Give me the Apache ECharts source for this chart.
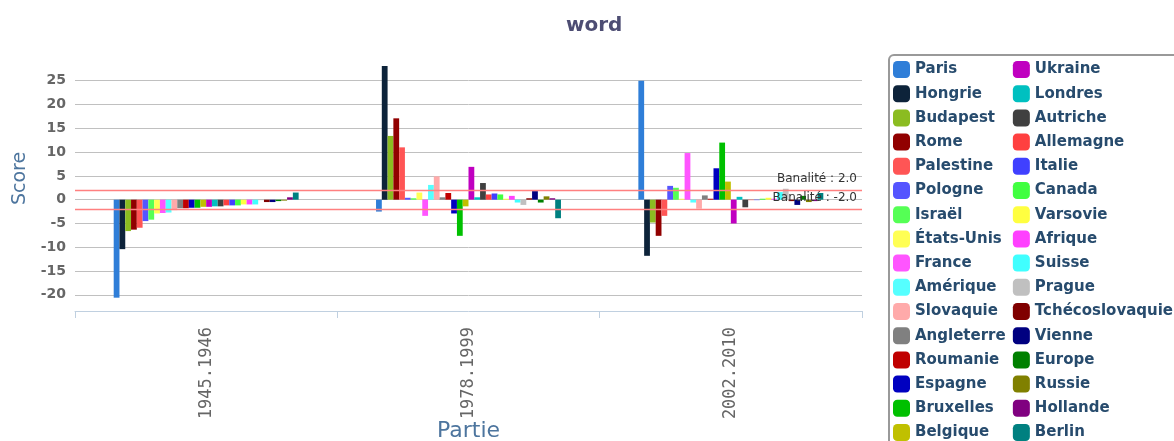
<!DOCTYPE html>
<html>
<head>
<meta charset="utf-8">
<script src="https://cdn.jsdelivr.net/npm/echarts@6/dist/echarts.min.js"></script>
<style>
  html, body { margin: 0; padding: 0; background: #fff; }
  #chart { width: 1174px; height: 441px; }
</style>
</head>
<body>
<div id="chart"></div>
<script>
const categories = ['1945.1946', '1978.1999', '2002.2010']

const names = [
  'Paris', 'Hongrie', 'Budapest', 'Rome', 'Palestine', 'Pologne', 'Israël', 'États-Unis',
  'France', 'Amérique', 'Slovaquie', 'Angleterre', 'Roumanie', 'Espagne', 'Bruxelles', 'Belgique',
  'Ukraine', 'Londres', 'Autriche', 'Allemagne', 'Italie', 'Canada', 'Varsovie', 'Afrique',
  'Suisse', 'Prague', 'Tchécoslovaquie', 'Vienne', 'Europe', 'Russie', 'Hollande', 'Berlin',
]

// one value per city, same order as names
const scores1945 = [
  -20.6, -10.4, -6.6, -6.3, -5.9, -4.5, -4.2, -2.9,
  -2.8, -2.7, -2.2, -1.8, -1.8, -1.7, -1.7, -1.5,
  -1.5, -1.4, -1.4, -1.2, -1.2, -1.2, -1.0, -1.0,
  -1.0, -0.1, -0.5, -0.5, -0.3, -0.2, 0.5, 1.5,
]
const scores1978 = [
  -2.5, 28.1, 13.4, 17.1, 11.0, 0.4, 0.3, 1.5,
  -3.4, 3.1, 4.9, 0.5, 1.4, -2.9, -7.6, -1.4,
  6.9, 0.5, 3.5, 1.1, 1.3, 1.1, 0.2, 0.8,
  -0.6, -1.1, 0.3, 1.8, -0.6, 0.7, 0.3, -3.9,
]
const scores2002 = [
  25.0, -11.8, -4.8, -7.6, -3.4, 2.9, 2.5, 0.2,
  9.8, -0.6, -1.9, 0.9, 0.2, 6.6, 12.0, 3.8,
  -5.0, 0.6, -1.6, -0.1, -0.1, 0.2, 0.4, 0.2,
  1.6, 2.3, -0.3, -1.1, 0.8, -0.5, -0.3, 1.4,
]

const banalite = [2.0, -2.0]

const palette = [
  '#2f7ed8', '#0d233a', '#8bbc21', '#910000', '#ff5555', '#5555ff', '#55ff55', '#ffff55',
  '#ff55ff', '#55ffff', '#ffaaaa', '#808080', '#c00000', '#0000c0', '#00c000', '#c0c000',
  '#c000c0', '#00c0c0', '#404040', '#ff4040', '#4040ff', '#40ff40', '#ffff40', '#ff40ff',
  '#40ffff', '#c0c0c0', '#800000', '#000080', '#008000', '#808000', '#800080', '#008080',
]

const chart = echarts.init(document.getElementById('chart'))

// grid lines: bottom one sits under the x axis, top one (axis max) stays hidden
const gridColors = ['transparent'].concat(Array(10).fill('#c0c0c0'), ['transparent'])

const series = names.map((name, i) => ({
  name,
  type: 'bar',
  barGap: '0%',
  barCategoryGap: '29.5%',
  itemStyle: { color: palette[i] },
  data: [scores1945[i], scores1978[i], scores2002[i]],
}))

series[series.length - 1].markLine = {
  silent: true,
  symbol: ['none', 'none'],
  lineStyle: { color: '#ff8080', width: 1.3, type: 'solid' },
  label: {
    position: 'insideEndTop',
    color: '#333',
    fontSize: 12,
    fontFamily: 'DejaVu Sans',
    formatter: (p) => 'Banalité : ' + Number(p.value).toFixed(1),
  },
  data: banalite.map((v) => ({ yAxis: v })),
}

chart.setOption({
  animation: false,
  color: palette,
  title: {
    text: 'word',
    left: 561,
    top: 11,
    textStyle: { fontFamily: 'DejaVu Sans', fontSize: 20, fontWeight: 'bold', color: '#4d4d73' },
  },
  legend: {
    orient: 'vertical',
    left: 889,
    top: 55,
    height: 392,
    padding: [6, 8, 30, 4],
    itemGap: 7.2,
    itemWidth: 17,
    itemHeight: 17,
    icon: 'roundRect',
    borderColor: '#999',
    borderWidth: 2,
    borderRadius: 5,
    textStyle: { fontFamily: 'DejaVu Sans', fontSize: 15, fontWeight: 'bold', color: '#274b6d' },
    data: names,
  },
  grid: { left: 75, right: 312, top: 66, bottom: 130, outerBoundsMode: 'none', containLabel: false },
  xAxis: {
    type: 'category',
    data: categories,
    name: 'Partie',
    nameLocation: 'middle',
    nameGap: 109,
    nameMoveOverlap: false,
    nameTextStyle: { fontFamily: 'DejaVu Sans', fontSize: 22, color: '#4d759e' },
    axisLine: { show: true, onZero: false, lineStyle: { color: '#c0d0e0', width: 1 } },
    axisTick: { show: true, length: 7, lineStyle: { color: '#c0d0e0', width: 1 } },
    axisLabel: {
      rotate: 90,
      margin: 16,
      fontFamily: 'DejaVu Sans Mono',
      fontSize: 17,
      color: '#666',
    },
  },
  yAxis: {
    type: 'value',
    min: -23.4,
    max: 28.1,
    splitNumber: 10,
    name: 'Score',
    nameLocation: 'middle',
    nameGap: 45,
    nameMoveOverlap: false,
    nameTextStyle: { fontFamily: 'DejaVu Sans', fontSize: 19, color: '#4d759e', padding: [0, 0, 0, 20] },
    axisLine: { show: false },
    axisTick: { show: false },
    splitLine: { lineStyle: { color: gridColors, width: 1 } },
    axisLabel: {
      margin: 9,
      fontFamily: 'DejaVu Sans',
      fontSize: 14,
      fontWeight: 'bold',
      color: '#666',
      formatter: (v) => (Math.abs(v % 5) < 1e-6 ? String(v) : ''),
    },
  },
  series,
})
</script>
</body>
</html>
